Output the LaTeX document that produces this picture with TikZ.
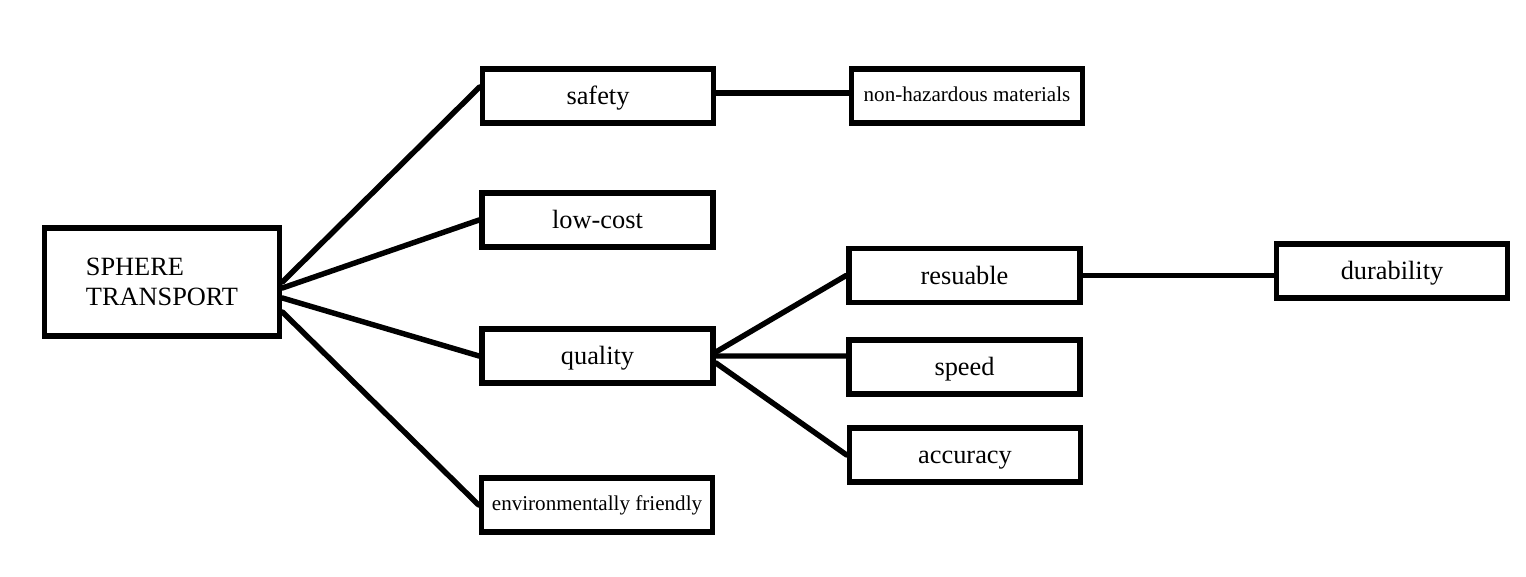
\documentclass[tikz,border=0pt]{standalone}
\usepackage{fontspec}
\setmainfont{Liberation Serif}
\usetikzlibrary{positioning}

\begin{document}
\begin{tikzpicture}[box/.style={draw, line width=3.3pt, minimum width=4.62cm, minimum height=1.08cm, font=\fontsize{15}{17}\selectfont, text height=0.36cm, text depth=0pt, inner sep=2pt},
		smallbox/.style={box, font=\fontsize{12}{14}\selectfont, text height=0.22cm},
		link/.style={line width=3.1pt, line cap=round}]
		\useasboundingbox (0,0) rectangle (30.52,11.52);
		\node [box, minimum width=4.7cm, minimum height=2.16cm, align=left, text height=, text depth=] (hub) at (3.24,5.88) {SPHERE\\TRANSPORT};
		\node [box] (safety) at (11.96,9.60) {safety};
		\node [smallbox] (nonhaz) at (19.34,9.60) {non-hazardous materials};
		\node [box] (lowcost) at (11.95,7.12) {low-cost};
		\node [box] (quality) at (11.95,4.40) {quality};
		\node [smallbox] (envfriendly) at (11.94,1.42) {environmentally friendly};
		\node [box] (resuable) at (19.29,6.01) {resuable};
		\node [box] (speed) at (19.29,4.18) {speed};
		\node [box] (accuracy) at (19.30,2.42) {accuracy};
		\node [box] (durability) at (27.84,6.10) {durability};
		
		\foreach \to/\from/\into in {safety/0/0.18, lowcost/-0.12/0, quality/-0.32/0, envfriendly/-0.6/0}{
			\draw [link] ([yshift=\from cm]hub.east)--([yshift=\into cm]\to.west);
		}
		\foreach \to/\from/\into in {resuable/0.08/0, speed/0/0.22, accuracy/-0.14/0}{
			\draw [link] ([yshift=\from cm]quality.east)--([yshift=\into cm]\to.west);
		}
		\draw [link] ([yshift=0.06cm]safety.east)--([yshift=0.06cm]nonhaz.west);
		\draw [link] (resuable.east)--(resuable.east -| durability.west);
		
	\end{tikzpicture}
\end{document}
